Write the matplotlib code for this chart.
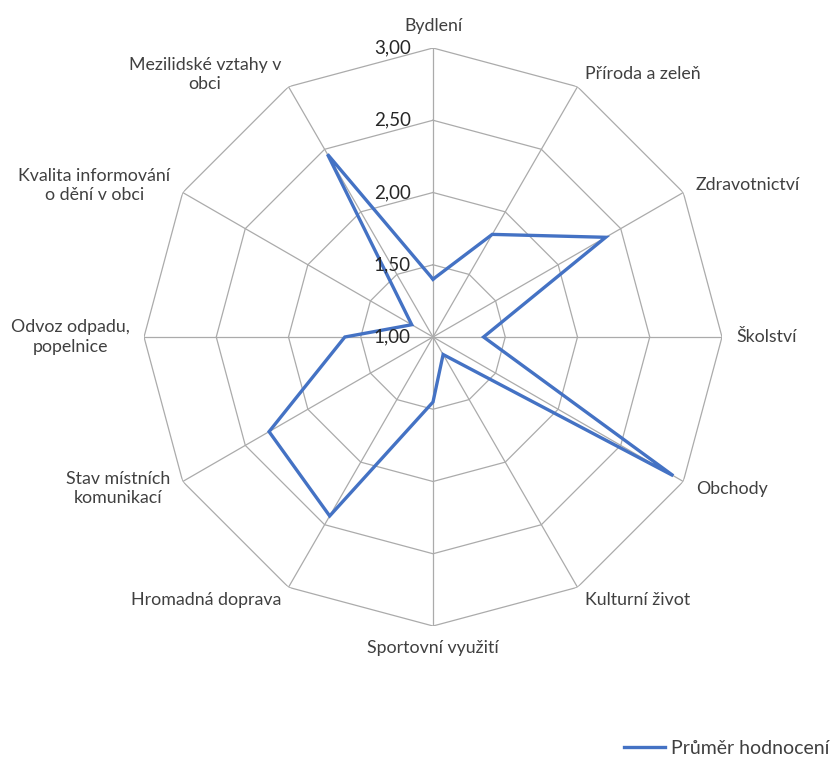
import numpy as np
import matplotlib
matplotlib.use('Agg')
from matplotlib import pyplot as plt
from matplotlib.lines import Line2D

# hodnoty
kategorie = ['Bydlení', 'Příroda a zeleň', 'Zdravotnictví', 'Školství', 'Obchody',
             'Kulturní život', 'Sportovní využití', 'Hromadná doprava',
             'Stav místních\nkomunikací', 'Odvoz odpadu,\npopelnice',
             'Kvalita informování\no dění v obci', 'Mezilidské vztahy v\nobci']
hodnoty = [1.40, 1.82, 2.38, 1.35, 2.92, 1.14, 1.45, 2.43, 2.31, 1.61, 1.17, 2.46]
urovne = [1.0, 1.5, 2.0, 2.5, 3.0]
nazev_rady = 'Průměr hodnocení'

plt.rcParams['font.family'] = ['Lato', 'DejaVu Sans']
modra = '#4472C4'
seda = '#ababab'
text_barva = '#404040'

fig = plt.figure(figsize=(8.39, 7.60), dpi=100)
ax = fig.add_axes([144 / 839, 1 - 626 / 760, 578 / 839, 578 / 760], projection='polar')
ax.set_theta_zero_location('N')
ax.set_theta_direction(-1)
ax.set_ylim(urovne[0], urovne[-1])
ax.grid(False)
ax.spines['polar'].set_visible(False)
ax.set_xticks([])
ax.set_yticks([])

n = len(kategorie)
uhly = np.arange(n) * 2 * np.pi / n
uhly_z = np.append(uhly, uhly[0])

# mřížka - mnohoúhelníky a paprsky
for u in urovne[1:]:
    ax.plot(uhly_z, [u] * (n + 1), color=seda, lw=0.9, zorder=1)
for t in uhly:
    ax.plot([t, t], [urovne[0], urovne[-1]], color=seda, lw=0.9, zorder=1)

ax.plot(uhly_z, hodnoty + [hodnoty[0]], color=modra, lw=2.4, zorder=3,
        solid_joinstyle='miter')

# popisky osy
for u in urovne:
    ax.annotate(('%.2f' % u).replace('.', ','), xy=(0, u), xytext=(-16, 0),
                textcoords='offset points', ha='right', va='center',
                fontsize=13.5, color='#262626', annotation_clip=False)

# popisky kategorií
for t, k in zip(uhly, kategorie):
    st = np.degrees(t)
    if st < 1 or st > 359:
        ha, va = 'center', 'bottom'
    elif abs(st - 180) < 1:
        ha, va = 'center', 'top'
    elif st < 180:
        ha, va = 'left', 'center'
    else:
        ha, va = 'right', 'center'
    ax.text(t, 3.1, k, ha=ha, va=va, multialignment='center',
            fontsize=12.8, color=text_barva, linespacing=1.25)

handle = Line2D([], [], color=modra, lw=2.4)
fig.legend([handle], [nazev_rady], loc='center left',
           bbox_to_anchor=(624 / 839, 1 - 748 / 760), frameon=False,
           fontsize=14, handlelength=2.1, handletextpad=0.3, borderpad=0,
           borderaxespad=0, labelcolor=text_barva)

fig.savefig('out.png', dpi=100)
